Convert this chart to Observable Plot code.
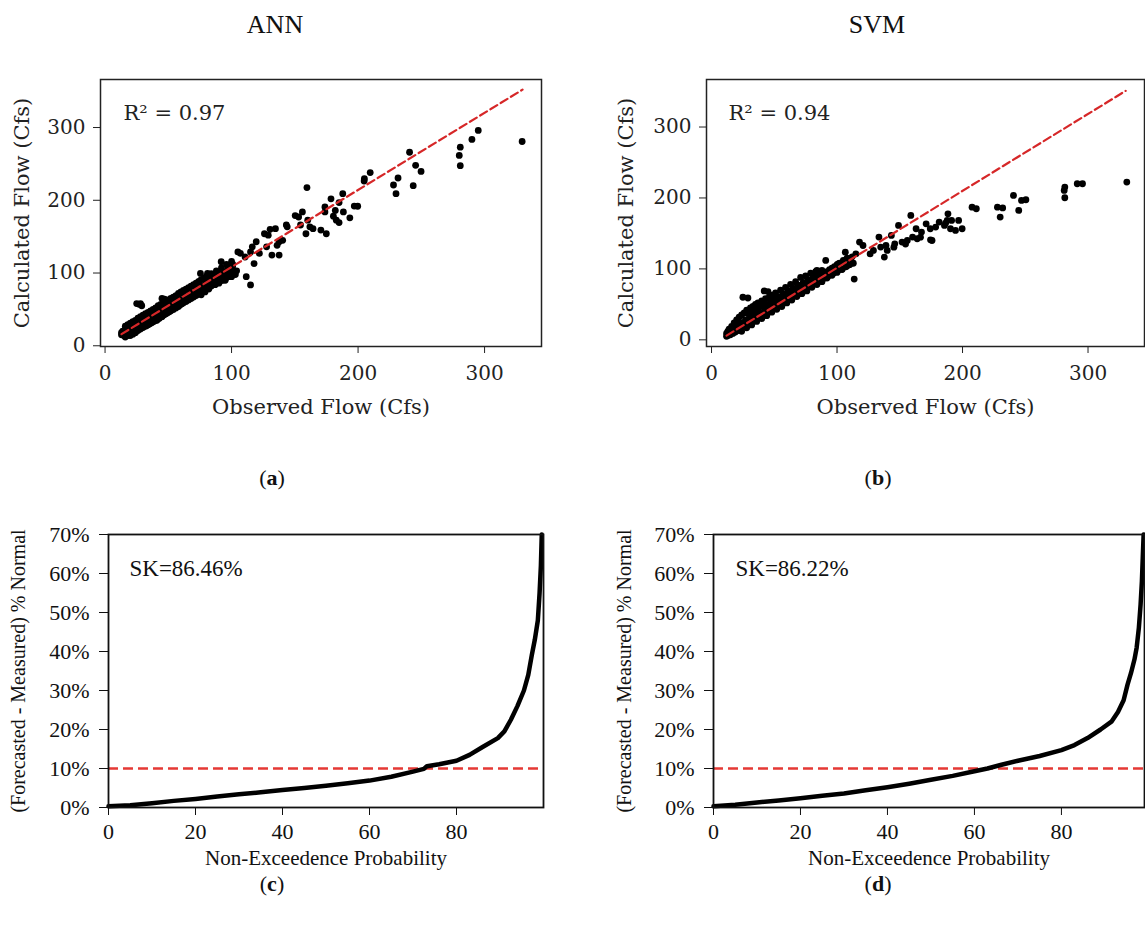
<!DOCTYPE html>
<html><head><meta charset="utf-8">
<script src="https://cdn.jsdelivr.net/npm/d3@7"></script>
<script src="https://cdn.jsdelivr.net/npm/@observablehq/plot@0.6"></script>
<style>
body{margin:0;background:#fff;}
#root{position:relative;width:1145px;height:929px;overflow:hidden;background:#fff;}
.panel{position:absolute;}
.panel svg{background:transparent !important;overflow:visible;}
.lbl{position:absolute;font-family:"Liberation Serif","Times New Roman",serif;color:#111;transform:translate(-50%,-50%);white-space:nowrap;line-height:1;}
</style></head><body><div id="root"></div>
<script>
// ---------- DATA ----------
const titles = ["ANN", "SVM"];
const captions = ["a", "b", "c", "d"];
const r2Labels = ["R\u00B2 = 0.97", "R\u00B2 = 0.94"];
const skLabels = ["SK=86.46%", "SK=86.22%"];
const scatterXTicks = [0, 100, 200, 300];
const scatterYTicks = [0, 100, 200, 300];
const exceedXTicks = [0, 20, 40, 60, 80];
const exceedYTicks = [0, 10, 20, 30, 40, 50, 60, 70];
const thresholdPct = [10];

// ANN: [observed, calculated]
const annPoints = [
[13,15],[13,18],[14,16],[14,20],[15,14],[15,19],[16,17],[16,22],[17,16],[17,21],[18,18],[18,24],[19,17],[19,22],[20,19],[20,25],
[21,18],[21,23],[22,20],[22,27],[23,19],[23,24],[24,22],[24,29],[25,21],[25,27],[26,23],[26,31],[27,24],[27,57],[28,26],[28,33],
[29,55],[29,25],[30,29],[30,36],[31,27],[31,33],[32,30],[32,38],[33,28],[33,35],[34,31],[34,40],[35,30],[35,37],[36,33],[36,43],
[37,32],[37,39],[38,35],[38,45],[39,34],[39,41],[40,36],[40,47],[41,35],[42,40],[42,49],[43,38],[44,42],[44,52],[45,40],[45,65],
[46,44],[47,43],[47,54],[48,46],[49,45],[50,49],[50,58],[51,47],[52,51],[52,60],[53,50],[54,54],[55,52],[55,63],[56,55],[57,54],
[58,58],[58,67],[59,56],[60,60],[61,58],[62,63],[62,72],[63,61],[64,65],[65,63],[66,68],[66,77],[67,66],[68,70],[69,68],[70,73],
[70,82],[71,70],[72,76],[73,73],[74,78],[74,88],[75,75],[76,80],[77,77],[78,83],[78,92],[79,80],[80,85],[81,82],[82,88],[83,85],
[84,90],[85,86],[86,92],[87,89],[88,94],[89,88],[90,96],[91,92],[92,98],[93,90],[94,100],[95,94],[96,102],[97,95],[98,104],[99,97],
[100,106],[76,70],[79,74],[82,78],[84,96],[87,84],[90,86],[92,104],[95,90],[97,108],[100,95],[101,112],[103,98],[104,103],
[16,12],[18,14],[20,14],[22,16],[24,18],[26,21],[28,23],[30,25],[32,27],[34,29],[36,31],[38,33],[40,35],[42,37],[44,40],[46,42],
[48,44],[50,46],[52,48],[54,50],[56,52],[58,54],[60,57],[62,59],[64,61],[66,63],[68,65],[70,67],[72,69],[74,71],[76,74],[78,76],
[80,78],[84,82],[88,86],[92,90],[96,94],[100,98],
[16,27],[18,29],[20,31],[22,33],[24,35],[25,58],[26,38],[28,40],[28,58],[30,42],[32,44],[34,46],[36,48],[38,50],[40,52],[42,55],
[44,57],[46,59],[47,64],[48,61],[50,63],[52,65],[54,67],[56,69],[58,72],[60,74],[62,76],[64,78],[66,80],[68,82],[70,84],[72,86],
[74,88],[76,91],[78,93],[80,95],[84,99],[88,103],[92,107],[96,112],[100,116],
[329.7,280.8],[295,296],[290,283.6],[280.8,273],[280,261.6],[280.8,247.5],[240.7,266],[245.5,248],[249.8,239.7],[243.6,220],
[231.6,230.6],[228,221],[230,209],[209.6,238],[205,229.7],[204.8,226.5],[197,192],[199.7,191.8],[193.5,175.8],[188.4,184],
[187.9,209],[185,196.8],[182,186],[178.6,202],[180.5,178],[182.8,172.6],[185,169.4],[173.8,190.9],[173.8,184],[174.9,154],
[170.6,159],[164.4,161],[159.6,217.4],[160.2,172.6],[161.9,163.5],[158.8,154],[156,184],[153,177],[154.5,166],[150.3,179],
[144,163.5],[143.3,166],[140.4,145],[137.6,143],[136,138],[134.7,161],[130.5,160],[129,152],[126,154],[127.7,136],[137.6,124.7],
[131.9,124.7],[122,127],[119.5,143],[116.4,136],[115,129],[117.8,113],[110.7,122],[107,127],[105,129],[115,83.6],[111.6,95],
[100.8,108.7],[98,95],[91.8,115.5],[102.3,99.5],[92.4,99.5],[86.7,97],[81,99.5],[75.4,99.5]
];
const annLine = [[13,16],[330,352]];

// SVM: [observed, calculated]
const svmPoints = [
[12,5],[12,9],[13,6],[13,12],[14,8],[14,15],[15,7],[15,13],[16,10],[16,19],[17,9],[17,16],[18,12],[18,24],[19,11],[19,18],
[20,14],[20,28],[21,13],[21,21],[22,16],[22,32],[23,15],[23,24],[24,19],[24,35],[25,18],[25,60],[26,22],[26,38],[27,20],[27,28],
[28,24],[28,42],[29,23],[29,59],[30,27],[30,35],[31,25],[31,45],[32,29],[32,38],[33,28],[33,47],[34,31],[34,40],[35,30],[35,50],
[36,34],[36,43],[37,33],[37,52],[38,36],[38,46],[39,35],[40,38],[40,55],[41,37],[41,48],[42,40],[42,69],[43,39],[43,58],[44,43],
[44,50],[45,42],[45,68],[46,45],[46,60],[47,44],[47,53],[48,47],[48,63],[49,46],[50,50],[50,58],[51,48],[51,66],[52,52],[53,50],
[53,61],[54,55],[55,53],[55,70],[56,57],[57,55],[57,65],[58,59],[59,57],[59,74],[60,61],[61,59],[61,69],[62,63],[63,61],[63,78],
[64,66],[65,63],[65,73],[66,68],[67,65],[67,82],[68,70],[69,67],[69,77],[70,72],[71,69],[71,88],[72,75],[73,71],[73,81],[74,77],
[75,73],[75,90],[76,79],[77,75],[77,85],[78,81],[79,77],[79,94],[80,83],[81,79],[81,89],[82,85],[83,80],[83,96],[84,87],[85,82],
[85,93],[86,89],[87,84],[88,91],[88,98],[89,86],[90,93],[91,88],[92,96],[93,90],[94,99],[95,92],[96,101],[97,94],[98,103],[99,96],
[100,106],[101,98],[102,108],[104,100],[105,112],[107,103],[108,115],[110,106],[112,117],[113,108],
[24,12],[28,17],[32,21],[36,26],[40,30],[44,34],[48,39],[52,43],[56,47],[60,52],[64,56],[68,61],[72,65],[76,69],[80,74],[84,78],
[88,82],[92,87],[96,91],[100,95],[104,99],[108,104],[112,108],
[330.9,222.4],[295.6,220],[291.4,220],[281.5,215.3],[281,210.6],[281.5,200.3],[250.5,197.5],[247,196.5],[240.6,203.6],[244.8,182.4],
[232,186],[227.8,187],[230,173],[207.6,187],[211,184.8],[199.7,156.6],[196.9,168.3],[188.4,177.7],[191.3,168.3],[185.6,161.3],
[181.4,166],[178.6,159],[174.3,156.6],[171,163.6],[175.7,140],[167.3,151.9],[163,156.6],[158.8,175.4],[160.2,144.8],[156,140],
[151.8,137.8],[149,161.3],[146,135.4],[143.3,147.2],[139,133],[137.7,116.6],[133.4,144.8],[134.8,130.7],[129,126],[126.4,121.3],
[117.9,137.8],[120.7,133],[115,121.3],[113.7,85.6],[110.9,111.9],[106.6,123.6],[101,107.2],[91,111.9],[98,97.8],[89.7,93],[84,97.8],
[186.5,164.5],[190.4,156.6],[194.4,154.2],[187.8,168.3],[166.5,144.7],[163.9,142.5],[174.5,141],[145.3,130.6],[154.6,135],[140,126]
];
const svmLine = [[12,6],[330,351]];

// Non-exceedence curves
const annProb = [0,5,10,15,20,25,30,35,40,45,50,55,60,65,70,72.5,73.2,76,80,83,86,89.5,91,92.5,94,95.5,96.5,97.3,98,98.7,99.1,99.4,99.6];
const annErr  = [0.3,0.6,1.1,1.7,2.2,2.8,3.4,3.9,4.5,5.0,5.6,6.2,6.9,7.9,9.2,9.9,10.6,11.1,12,13.5,15.5,17.8,19.5,22.5,26,30,34,39,43,48,55,62,70];
const svmProb = [0,5,10,15,20,25,30,35,40,45,50,55,60,63,66,70,75,80,83,86,89,91.5,93,94.3,95.2,96,96.8,97.3,97.8,98.2,98.5,98.7,98.9];
const svmErr  = [0.3,0.7,1.3,1.8,2.4,3.0,3.6,4.4,5.2,6.1,7.1,8.1,9.3,10,10.9,12,13.2,14.7,16,17.8,20,22,24.5,27.5,31.5,34.5,38,41,46,52,58,64,70];

// ---------- CHARTS ----------
const root = document.getElementById("root");
function place(node, left, top) {
  const d = document.createElement("div");
  d.className = "panel"; d.style.left = left + "px"; d.style.top = top + "px";
  d.appendChild(node); root.appendChild(d);
}
function label(html, x, y, size) {
  const d = document.createElement("div");
  d.className = "lbl"; d.style.left = x + "px"; d.style.top = y + "px";
  d.style.fontSize = size + "px"; d.innerHTML = html; root.appendChild(d);
}

function scatterPanel(points, line, r2, o) {
  return Plot.plot({
    width: o.width, height: 430,
    marginLeft: o.ml, marginRight: o.mr, marginTop: 79, marginBottom: 84,
    x: {domain: o.xd}, y: {domain: o.yd},
    style: {fontFamily: "DejaVu Serif", fontSize: "20px", color: "#222", background: "transparent", overflow: "visible"},
    marks: [
      Plot.dot(points, {x: d => d[0], y: d => d[1], r: 3.4, fill: "#000", stroke: "none"}),
      Plot.line(line, {x: d => d[0], y: d => d[1], stroke: "#d62728", strokeWidth: 2.2, strokeDasharray: "8,4"}),
      Plot.axisX({ticks: scatterXTicks, tickSize: 7, tickPadding: 12, label: null}),
      Plot.axisY({ticks: scatterYTicks, tickSize: 7, tickPadding: 8, label: null}),
      Plot.frame({stroke: "#222", strokeWidth: 1.5}),
      Plot.text([r2], {frameAnchor: "top-left", dx: o.r2dx, dy: 34, textAnchor: "start", lineAnchor: "middle", fontSize: 21}),
      Plot.text(["Observed Flow (Cfs)"], {frameAnchor: "bottom", dy: 61, textAnchor: "middle", lineAnchor: "middle", fontSize: 21}),
      Plot.text(["Calculated Flow (Cfs)"], {frameAnchor: "left", dx: o.yldx, rotate: -90, textAnchor: "middle", lineAnchor: "middle", fontSize: 21})
    ]
  });
}

function exceedPanel(xs, ys, sk, o) {
  const data = xs.map((x, i) => ({p: x, e: ys[i]}));
  return Plot.plot({
    width: o.width, height: 400,
    marginLeft: o.ml, marginRight: o.mr, marginTop: 54, marginBottom: 73,
    x: {domain: o.xd}, y: {domain: [0, 70]},
    style: {fontFamily: "Liberation Serif", fontSize: "22px", color: "#111", background: "transparent", overflow: "visible"},
    marks: [
      Plot.ruleY(thresholdPct, {stroke: "#e53935", strokeWidth: 2.5, strokeDasharray: "10,5"}),
      Plot.line(data, {x: "p", y: "e", stroke: "#000", strokeWidth: 4.5, curve: "linear"}),
      Plot.axisX({ticks: exceedXTicks, tickSize: 8, tickPadding: 8, label: null}),
      Plot.axisY({ticks: exceedYTicks, tickFormat: d => d + "%", tickSize: 9, tickPadding: 10, label: null}),
      Plot.frame({stroke: "#111", strokeWidth: 1.8}),
      Plot.text([sk], {frameAnchor: "top-left", dx: o.skdx, dy: 34, textAnchor: "start", lineAnchor: "middle", fontSize: 23}),
      Plot.text(["Non-Exceedence Probability"], {frameAnchor: "bottom", dy: 51, textAnchor: "middle", lineAnchor: "middle", fontSize: 21}),
      Plot.text(["(Forecasted - Measured) % Normal"], {frameAnchor: "left", dx: o.yldx, rotate: -90, textAnchor: "middle", lineAnchor: "middle", fontSize: 20})
    ]
  });
}

place(scatterPanel(annPoints, annLine, r2Labels[0],
  {width: 560, ml: 100, mr: 19, xd: [-3.6, 345], yd: [-1, 366], r2dx: 23, yldx: -78}), 0, 0);
place(scatterPanel(svmPoints, svmLine, r2Labels[1],
  {width: 573, ml: 134, mr: 1, xd: [-4, 345], yd: [-9.4, 367], r2dx: 22, yldx: -80}), 572, 0);
place(exceedPanel(annProb, annErr, skLabels[0],
  {width: 560, ml: 108, mr: 17, xd: [0, 100], skdx: 21, yldx: -90}), 0, 480);
place(exceedPanel(svmProb, svmErr, skLabels[1],
  {width: 573, ml: 141, mr: 1, xd: [0, 99.1], skdx: 22, yldx: -89}), 572, 480);

label(titles[0], 275, 25, 26);
label(titles[1], 877, 25, 26);
label("(<b>" + captions[0] + "</b>)", 272, 478, 22);
label("(<b>" + captions[1] + "</b>)", 878, 478, 22);
label("(<b>" + captions[2] + "</b>)", 272, 884, 22);
label("(<b>" + captions[3] + "</b>)", 878, 884, 22);
</script></body></html>
